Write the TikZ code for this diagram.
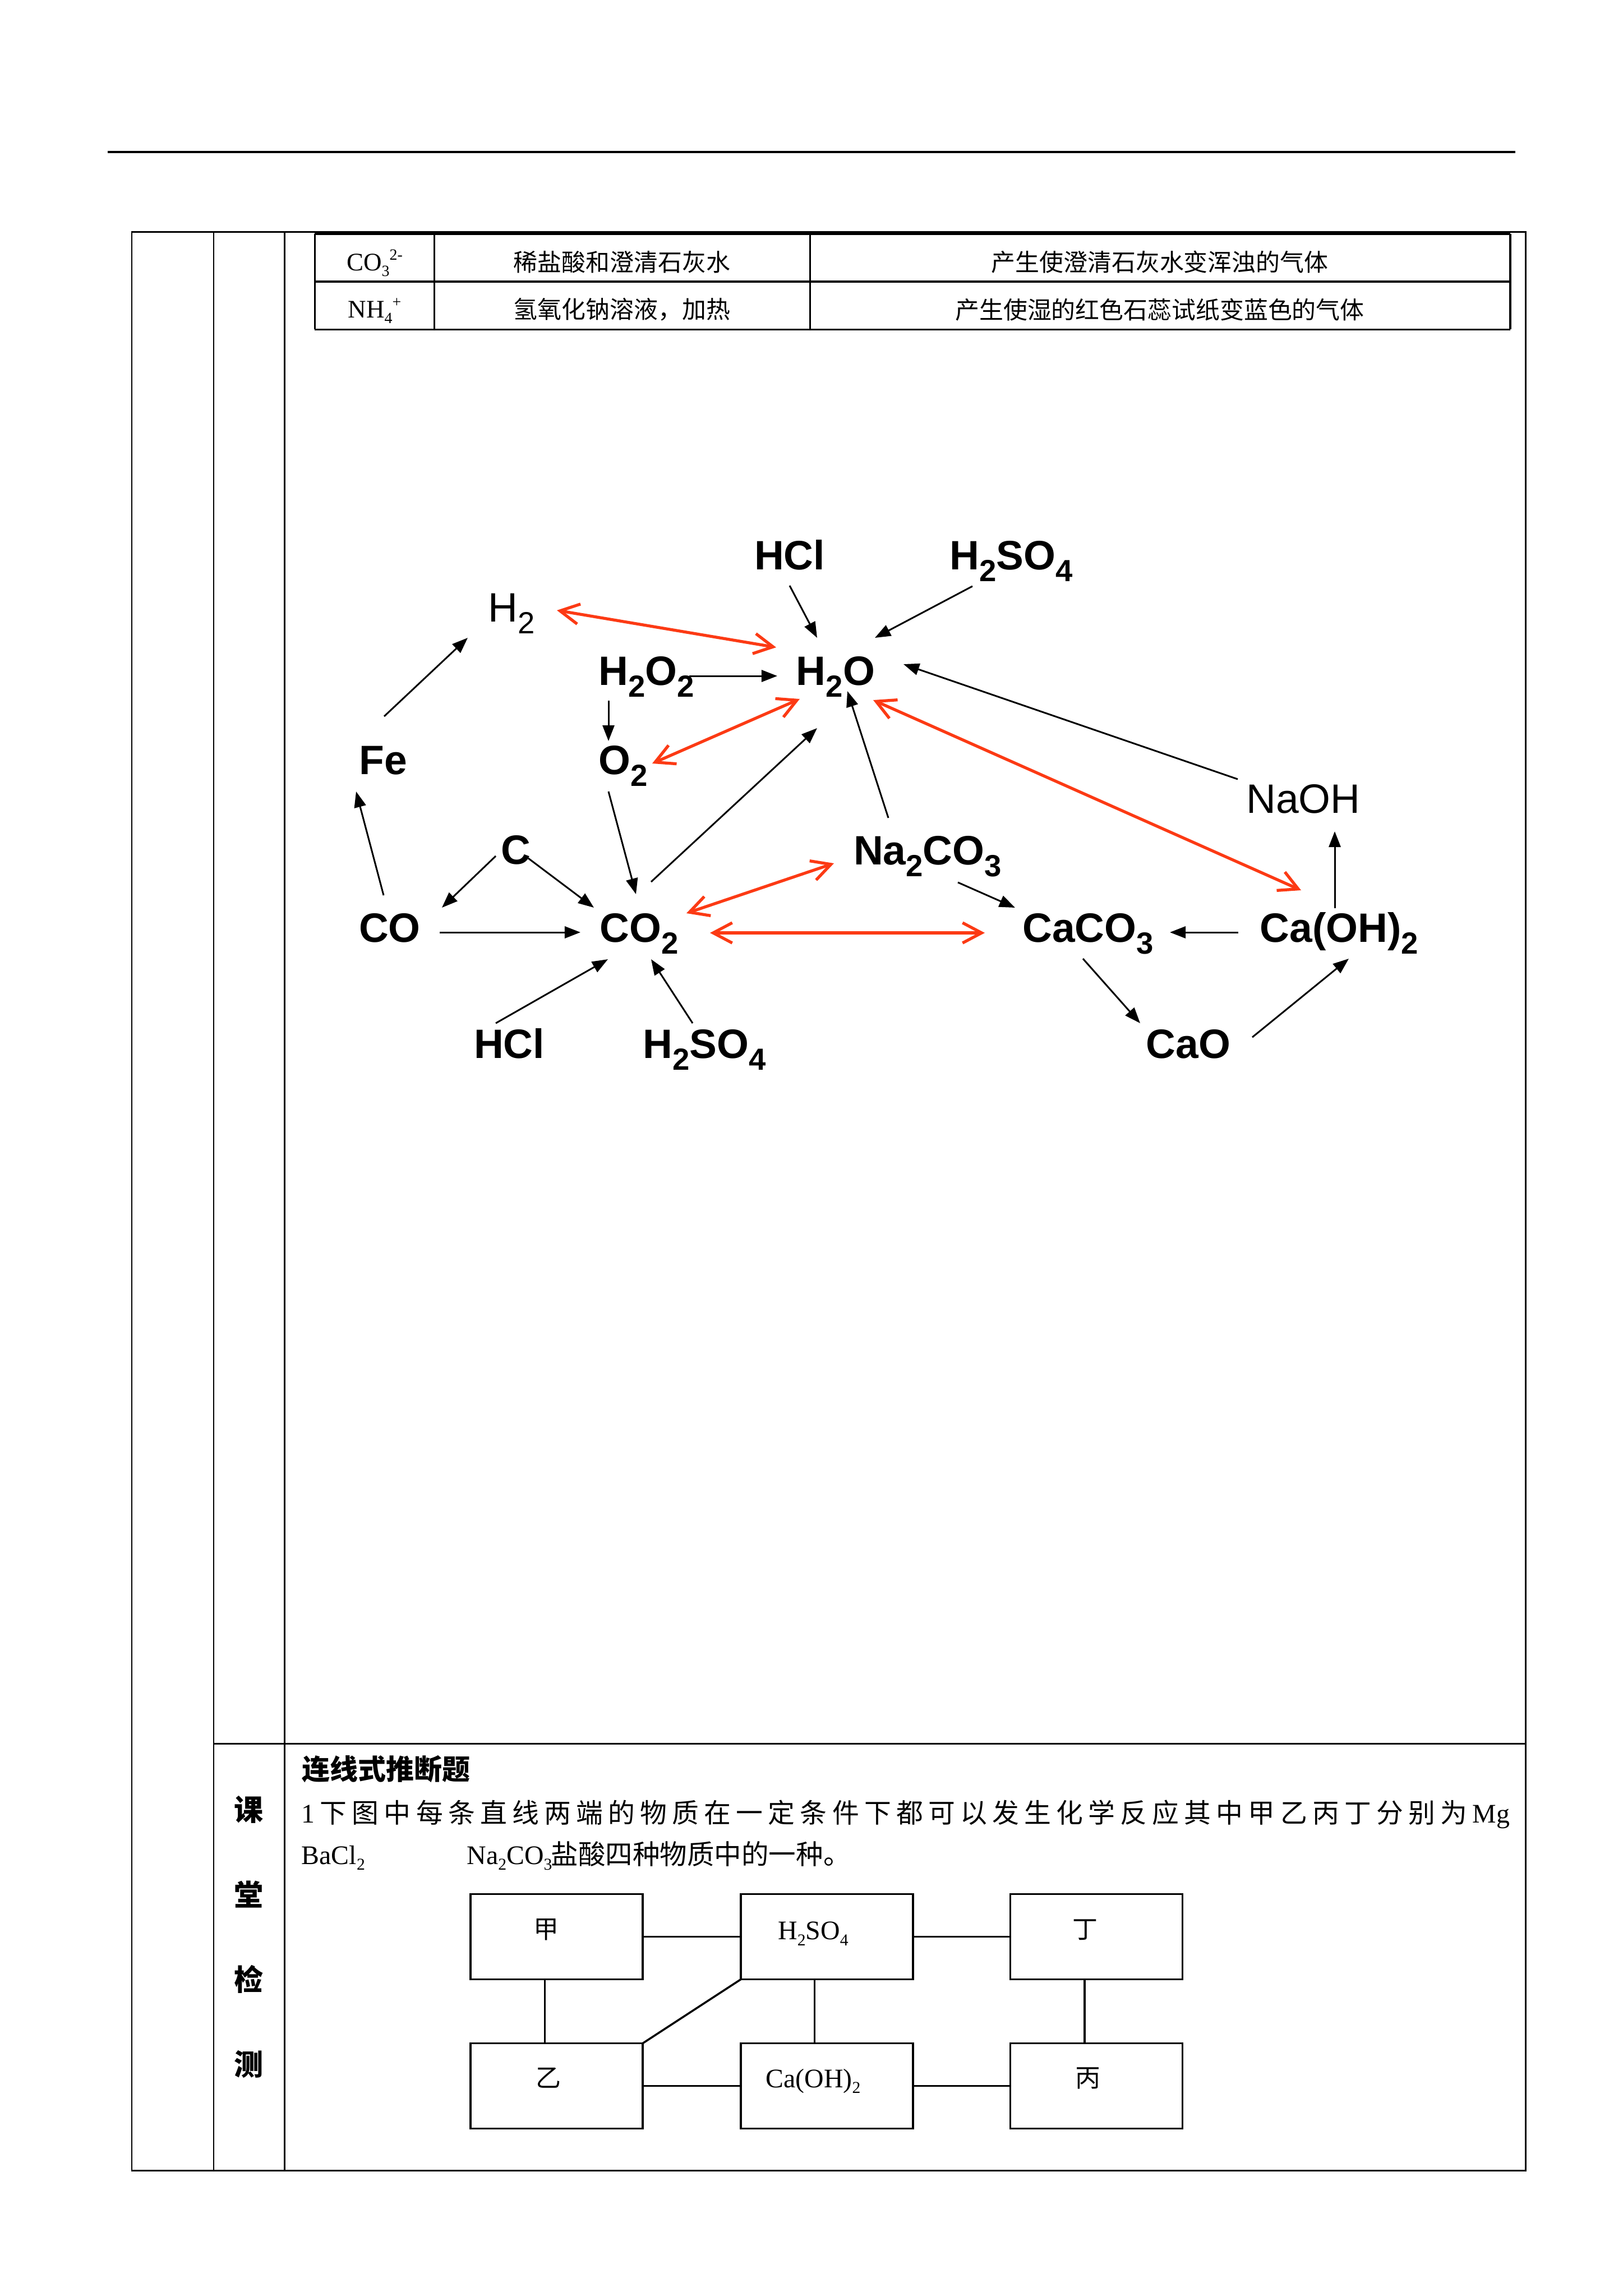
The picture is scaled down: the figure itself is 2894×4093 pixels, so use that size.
\documentclass[tikz,border=0pt]{standalone}
\usepackage{fontspec}
\usepackage{graphicx}
\usetikzlibrary{arrows.meta,calc}
\setmainfont{Liberation Serif}
\newfontfamily\cjk{Noto Sans CJK SC}
\newfontfamily\arial{Liberation Sans}
\definecolor{rxn}{RGB}{252,58,20}
\newcommand\dsub[1]{\raisebox{-6pt}{\fontsize{15.5}{15.5}\selectfont #1}}
\newcommand\tsub[1]{\raisebox{-0.22em}{\scalebox{0.62}{#1}}}
\newcommand\tsup[1]{\raisebox{0.42em}{\scalebox{0.62}{#1}}}
\newcommand\tOne{{\rmfamily 1}}
\newcommand\tMg{{\rmfamily Mg}}
\makeatletter
\def\sp@end{\sp@end}
\def\spreadline#1#2{\hbox to #1{\sp@first#2\sp@end}}
\def\sp@first#1{#1\sp@rest}
\def\sp@rest#1{\ifx\sp@end#1\else\hfil#1\expandafter\sp@rest\fi}
\makeatother
\begin{document}
\begin{tikzpicture}[x=0.01cm, y=-0.01cm,
  chem/.style={inner sep=0pt, anchor=base, font=\arial\bfseries\fontsize{20.8}{25}\selectfont},
  chemr/.style={inner sep=0pt, anchor=base, font=\arial\fontsize{20.8}{25}\selectfont},
  blk/.style={line width=0.85pt, -{Triangle[length=2.8mm,width=2.1mm]}},
  redarr/.style={draw=rxn, line width=1.5pt, {Straight Barb[length=3.4mm,width=3.6mm]}-{Straight Barb[length=3.4mm,width=3.6mm]}},
  rule/.style={line width=0.85pt},
  tcjk/.style={inner sep=0pt, font=\cjk\fontsize{12.2}{14}\selectfont},
  tlat/.style={inner sep=0pt, font=\fontsize{12.8}{14}\selectfont},
  chembox/.style={draw, line width=1pt, minimum width=3.07cm, minimum height=1.52cm, inner sep=0pt, outer sep=0pt},
  bcjk/.style={inner sep=0pt, font=\cjk\fontsize{12.8}{14}\selectfont},
  blat/.style={inner sep=0pt, font=\fontsize{13.6}{15}\selectfont},
  link/.style={line width=1pt}]
\fill[white] (0,0) rectangle (2894,4093);
\useasboundingbox (0,0) rectangle (2894,4093);

% header rule
\draw[line width=1.2pt] (192,271) -- (2702,271);

% outer table
\draw[rule] (235,413.5) rectangle (2720,3869);
\draw[rule] (381,413.5) -- (381,3869);
\draw[rule] (507,413.5) -- (507,3869);
\draw[rule] (381,3108) -- (2720,3108);

% small table
\draw[line width=1.14pt] (561,417) -- (2693,417);
\draw[line width=1pt] (561,502) -- (2693,502);
\draw[rule] (561,587) -- (2693,587);
\draw[rule] (561,417) -- (561,587);
\draw[rule] (774,417) -- (774,587);
\draw[rule] (1444,417) -- (1444,587);
\draw[line width=1.14pt] (2693,417) -- (2693,587);
\node[tlat] (t11) at (668,469) {CO\tsub{3}\tsup{2-}};
\node[tcjk] (t12) at (1109,467) {稀盐酸和澄清石灰水};
\node[tcjk] (t13) at (2068,467) {产生使澄清石灰水变浑浊的气体};
\node[tlat] (t21) at (668,554) {NH\tsub{4}\tsup{+}};
\node[tcjk] (t22) at (1109,552) {氢氧化钠溶液，加热};
\node[tcjk] (t23) at (2068,552) {产生使湿的红色石蕊试纸变蓝色的气体};

% diagram nodes
\node[chem] (hclT) at (1408,1015) {HCl};
\node[chem] (h2so4T) at (1803,1015) {H\dsub{2}SO\dsub{4}};
\node[chemr] (h2) at (912,1108) {H\dsub{2}};
\node[chem] (h2o2) at (1153,1221) {H\dsub{2}O\dsub{2}};
\node[chem] (h2o) at (1490,1221) {H\dsub{2}O};
\node[chem] (fe) at (683,1380) {Fe};
\node[chem] (o2) at (1111,1380) {O\dsub{2}};
\node[chemr] (naoh) at (2324,1449) {NaOH};
\node[chem] (na2co3) at (1654,1541) {Na\dsub{2}CO\dsub{3}};
\node[chem] (c) at (920,1540) {C};
\node[chem] (co) at (695,1679) {CO};
\node[chem] (co2) at (1140,1679) {CO\dsub{2}};
\node[chem] (caco3) at (1940,1679) {CaCO\dsub{3}};
\node[chem] (caoh2) at (2388,1679) {Ca(OH)\dsub{2}};
\node[chem] (hclB) at (908,1886) {HCl};
\node[chem] (h2so4B) at (1256,1886) {H\dsub{2}SO\dsub{4}};
\node[chem] (cao) at (2119,1886) {CaO};

% black arrows
\draw[blk] ($(fe.base)+(2,-103)$) -- ($(h2.base)+(-78,29)$);
\draw[blk] ($(hclT.base)+(0,29)$) -- ($(h2o.base)+(-33,-84)$);
\draw[blk] ($(h2so4T.base)+(-69,30)$) -- ($(h2o.base)+(70,-84)$);
\draw[blk] ($(h2o2.base)+(76,-16)$) -- ($(h2o.base)+(-104,-16)$);
\draw[blk] ($(h2o2.base)+(-68,28)$) -- ($(o2.base)+(-26,-59)$);
\draw[blk] ($(co2.base)+(21,-107)$) -- ($(h2o.base)+(-33,77)$);
\draw[blk] ($(na2co3.base)+(-70,-83)$) -- ($(h2o.base)+(21,11)$);
\draw[blk] ($(o2.base)+(-26,31)$) -- ($(co2.base)+(-6,-85)$);
\draw[blk] ($(naoh.base)+(-117,-60)$) -- ($(h2o.base)+(121,-37)$);
\draw[blk] ($(na2co3.base)+(54,32)$) -- ($(caco3.base)+(-130,-61)$);
\draw[blk] ($(caoh2.base)+(-180,-17)$) -- ($(caco3.base)+(146,-17)$);
\draw[blk] ($(caoh2.base)+(-8,-60)$) -- ($(naoh.base)+(56,33)$);
\draw[blk] ($(caco3.base)+(-9,30)$) -- ($(cao.base)+(-86,-62)$);
\draw[blk] ($(cao.base)+(114,-37)$) -- ($(caoh2.base)+(17,30)$);
\draw[blk] ($(co.base)+(-11,-83)$) -- ($(fe.base)+(-48,31)$);
\draw[blk] ($(c.base)+(-36,-14)$) -- ($(co.base)+(93,-61)$);
\draw[blk] ($(c.base)+(22,-10)$) -- ($(co2.base)+(-81,-61)$);
\draw[blk] ($(co.base)+(89,-17)$) -- ($(co2.base)+(-105,-17)$);
\draw[blk] ($(hclB.base)+(-24,-62)$) -- ($(co2.base)+(-56,31)$);
\draw[blk] ($(h2so4B.base)+(-21,-62)$) -- ($(co2.base)+(21,31)$);

% red double arrows
\draw[redarr] ($(h2.base)+(81,-20)$) -- ($(h2o.base)+(-106,-67)$);
\draw[redarr] ($(o2.base)+(52,-19)$) -- ($(h2o.base)+(-64,25)$);
\draw[redarr] ($(h2o.base)+(67,27)$) -- ($(caoh2.base)+(-68,-92)$);
\draw[redarr] ($(co2.base)+(84,-51)$) -- ($(na2co3.base)+(-167,-2)$);
\draw[redarr] ($(co2.base)+(126,-16)$) -- ($(caco3.base)+(-184,-16)$);

% lower section
\node[inner sep=0pt, anchor=base west, font=\cjk\bfseries\fontsize{14.2}{16}\selectfont] (head) at (538,3172) {连线式推断题};
\node[inner sep=0pt, anchor=base west, font=\cjk\fontsize{13.6}{16}\selectfont] (q1) at (537,3249)
  {\spreadline{21.53cm}{\tOne 下图中每条直线两端的物质在一定条件下都可以发生化学反应其中甲乙丙丁分别为\tMg}};
\node[inner sep=0pt, anchor=base west, font=\fontsize{13.6}{16}\selectfont] (q2a) at (537,3323) {BaCl\tsub{2}};
\node[inner sep=0pt, anchor=base west, font=\fontsize{13.6}{16}\selectfont] (q2b) at (832,3323) {Na\tsub{2}CO\tsub{3}};
\node[inner sep=0pt, anchor=base west, font=\cjk\fontsize{13.8}{16}\selectfont] (q2c) at (982,3323) {盐酸四种物质中的一种。};

\node[inner sep=0pt, font=\cjk\bfseries\fontsize{14.8}{16}\selectfont] (v1) at (444,3226) {课};
\node[inner sep=0pt, font=\cjk\bfseries\fontsize{14.8}{16}\selectfont] (v2) at (444,3377) {堂};
\node[inner sep=0pt, font=\cjk\bfseries\fontsize{14.8}{16}\selectfont] (v3) at (444,3528) {检};
\node[inner sep=0pt, font=\cjk\bfseries\fontsize{14.8}{16}\selectfont] (v4) at (444,3680) {测};

% boxes
\node[chembox] (jia) at (992.5,3452.5) {};
\node[chembox] (hs) at (1474.5,3452.5) {};
\node[chembox] (ding) at (1955,3452.5) {};
\node[chembox] (yi) at (992.5,3718.5) {};
\node[chembox] (ch) at (1474.5,3718.5) {};
\node[chembox] (bing) at (1955,3718.5) {};
\node[bcjk] (tjia) at (974,3440) {甲};
\node[blat] (ths) at (1450,3447) {H\tsub{2}SO\tsub{4}};
\node[bcjk] (tding) at (1935,3440) {丁};
\node[bcjk] (tyi) at (978,3704) {乙};
\node[blat] (tch) at (1450,3710) {Ca(OH)\tsub{2}};
\node[bcjk] (tbing) at (1940,3705) {丙};
\draw[link] (jia.east) -- (hs.west);
\draw[link] (hs.east) -- (ding.west);
\draw[link] (yi.east) -- (ch.west);
\draw[link] (ch.east) -- (bing.west);
\draw[link] ($(jia.south)+(-21,0)$) -- ($(yi.north)+(-21,0)$);
\draw[link] ($(hs.south)+(-22,0)$) -- ($(ch.north)+(-22,0)$);
\draw[link] ($(ding.south)+(-21,0)$) -- ($(bing.north)+(-21,0)$);
\draw[link] (hs.south west) -- (yi.north east);
\end{tikzpicture}
\end{document}
